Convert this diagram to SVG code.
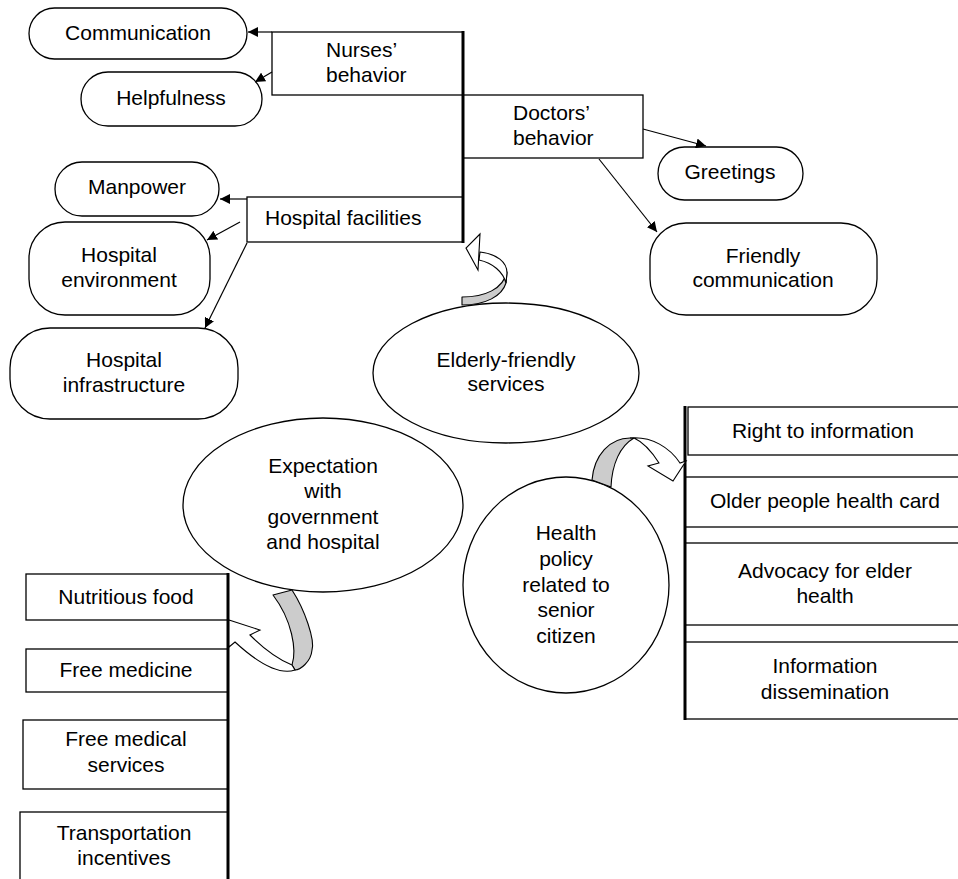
<svg xmlns="http://www.w3.org/2000/svg" width="958" height="879" viewBox="0 0 958 879">
<defs>
<marker id="ah" viewBox="0 0 10 10" refX="10" refY="5" markerWidth="10" markerHeight="10" markerUnits="userSpaceOnUse" orient="auto">
<path d="M0,0 L10,5 L0,10 Z" fill="#000"/>
</marker>
</defs>
<style>
.b{fill:#fff;stroke:#000;stroke-width:1.3}
.t{font-family:"Liberation Sans",Arial,sans-serif;font-size:21px;fill:#000;text-anchor:middle}
.l{text-anchor:start}
.c{fill:none;stroke:#000;stroke-width:1.2}
.k{fill:none;stroke:#000;stroke-width:3}
.g{fill:#cccccc;stroke:#000;stroke-width:1.1;stroke-linejoin:round}
.w{fill:#fff;stroke:#000;stroke-width:1.1;stroke-linejoin:miter}
</style>
<rect width="958" height="879" fill="#fff"/>

<g id="n-nurses"><rect class="b" x="272" y="32" width="191" height="63"/><text class="t l" x="326" y="57">Nurses’</text><text class="t l" x="326" y="82">behavior</text></g>
<g id="n-doctors"><rect class="b" x="463" y="95" width="180" height="63"/><text class="t l" x="513" y="120">Doctors’</text><text class="t l" x="513" y="145">behavior</text></g>
<g id="n-facilities"><rect class="b" x="247" y="197" width="216" height="45"/><text class="t l" x="265" y="225">Hospital facilities</text></g>

<g id="n-communication"><rect class="b" x="29" y="8" width="218" height="51" rx="25.5"/><text class="t" x="138" y="40">Communication</text></g>
<g id="n-helpfulness"><rect class="b" x="81" y="72" width="181" height="54" rx="27"/><text class="t" x="171" y="105">Helpfulness</text></g>
<g id="n-greetings"><rect class="b" x="658" y="147" width="145" height="53" rx="26.5"/><text class="t" x="730" y="179">Greetings</text></g>
<g id="n-friendly"><rect class="b" x="650" y="223" width="227" height="92" rx="36"/><text class="t" x="763" y="263">Friendly</text><text class="t" x="763" y="287">communication</text></g>
<g id="n-manpower"><rect class="b" x="55" y="162" width="164" height="54" rx="27"/><text class="t" x="137" y="194">Manpower</text></g>
<g id="n-environment"><rect class="b" x="29" y="222" width="181" height="93" rx="36"/><text class="t" x="119" y="262">Hospital</text><text class="t" x="119" y="287">environment</text></g>
<g id="n-infrastructure"><rect class="b" x="10" y="328" width="228" height="91" rx="40"/><text class="t" x="124" y="367">Hospital</text><text class="t" x="124" y="392">infrastructure</text></g>

<g id="n-elderly"><ellipse class="b" cx="506" cy="373" rx="133" ry="70"/><text class="t" x="506" y="367">Elderly-friendly</text><text class="t" x="506" y="391">services</text></g>
<g id="n-expectation"><ellipse class="b" cx="323" cy="505" rx="140" ry="87"/><text class="t" x="323" y="473">Expectation</text><text class="t" x="323" y="498">with</text><text class="t" x="323" y="524">government</text><text class="t" x="323" y="549">and hospital</text></g>
<g id="n-policy"><ellipse class="b" cx="566" cy="585" rx="103" ry="108"/><text class="t" x="566" y="540">Health</text><text class="t" x="566" y="566">policy</text><text class="t" x="566" y="592">related to</text><text class="t" x="566" y="617">senior</text><text class="t" x="566" y="643">citizen</text></g>

<g id="n-right"><rect class="b" x="688" y="407" width="290" height="48"/><text class="t" x="823" y="438">Right to information</text></g>
<g id="n-card"><rect class="b" x="685" y="477" width="293" height="50"/><text class="t" x="825" y="508">Older people health card</text></g>
<g id="n-advocacy"><rect class="b" x="685" y="543" width="293" height="82"/><text class="t" x="825" y="578">Advocacy for elder</text><text class="t" x="825" y="603">health</text></g>
<g id="n-dissemination"><rect class="b" x="685" y="642" width="293" height="77"/><text class="t" x="825" y="673">Information</text><text class="t" x="825" y="699">dissemination</text></g>

<g id="n-food"><rect class="b" x="26" y="574" width="202" height="46"/><text class="t" x="126" y="604">Nutritious food</text></g>
<g id="n-medicine"><rect class="b" x="26" y="649" width="202" height="43"/><text class="t" x="126" y="677">Free medicine</text></g>
<g id="n-services"><rect class="b" x="23" y="720" width="205" height="69"/><text class="t" x="126" y="746">Free medical</text><text class="t" x="126" y="772">services</text></g>
<g id="n-transport"><rect class="b" x="20" y="812" width="208" height="80"/><text class="t" x="124" y="840">Transportation</text><text class="t" x="124" y="865">incentives</text></g>

<g id="connectors">
<line class="c" x1="272" y1="32" x2="248" y2="32" marker-end="url(#ah)"/>
<line class="c" x1="272" y1="72" x2="255" y2="82" marker-end="url(#ah)"/>
<line class="c" x1="643" y1="129" x2="706" y2="146" marker-end="url(#ah)"/>
<line class="c" x1="599" y1="159" x2="657" y2="232" marker-end="url(#ah)"/>
<line class="c" x1="247" y1="199" x2="220" y2="199" marker-end="url(#ah)"/>
<line class="c" x1="240" y1="222" x2="207" y2="240" marker-end="url(#ah)"/>
<line class="c" x1="247" y1="243" x2="205" y2="328" marker-end="url(#ah)"/>
<line class="k" x1="463" y1="31" x2="463" y2="243"/>
<line class="k" x1="685" y1="406" x2="685" y2="720"/>
<line class="k" x1="228" y1="573" x2="228" y2="879"/>

<path class="g" d="M462,297 C485,297 503,289 507,272 L506,283 C502,296 486,305 462,305 Z"/>
<path class="w" d="M480,252 C497,254 507,262 507,273 L506,283 C503,272 493,263 479,260 Z"/>
<path class="w" d="M480,234 L466,248 L478,270 Z"/>

<path class="g" d="M592,480 C594,455 610,438 630,438 L634,438 C620,446 612,464 611,487 Z"/>
<path class="w" d="M630,438 C652,436 670,448 680,463 L686,461 L673,481 L648,466 L659,463 C652,452 643,442 634,438 Z"/>

<path class="g" d="M273,595 L292,590 C305,610 315,640 312,650 C311,662 300,670 295,670 L292,665 C297,650 292,620 273,595 Z"/>
<path class="w" d="M295,670 C280,675 260,665 235,642 L229,647 L229,620 L260,630 L250,635 C265,650 280,660 292,665 Z"/>
</g>
</svg>
